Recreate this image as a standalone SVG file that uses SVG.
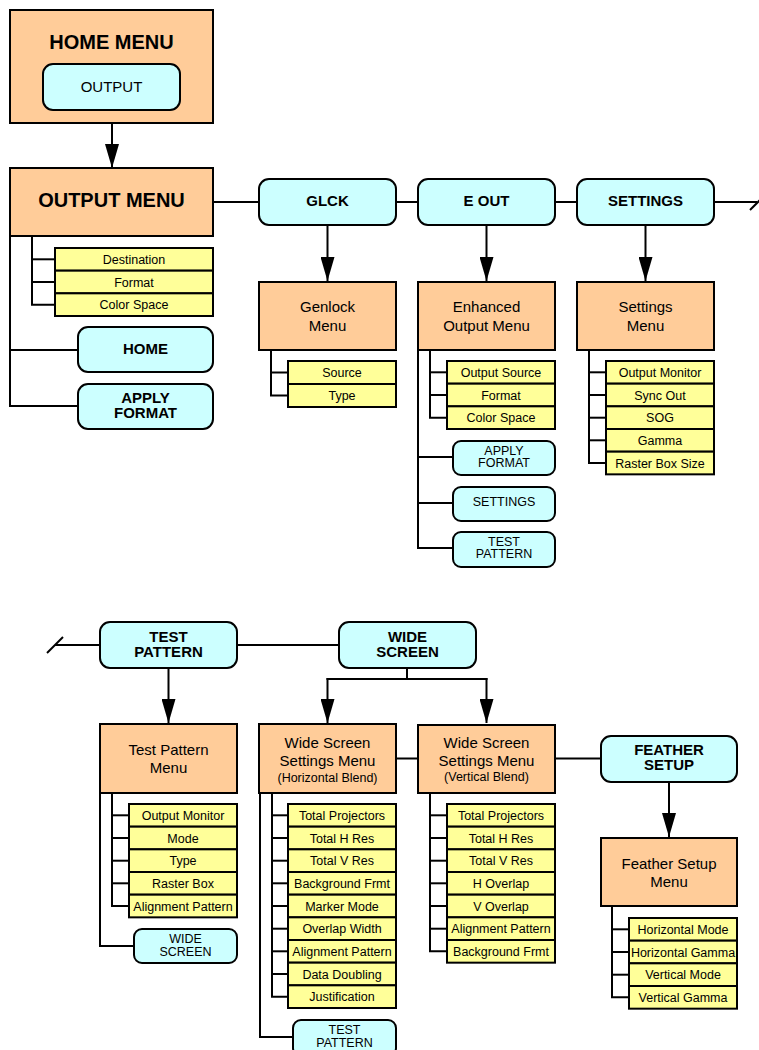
<svg xmlns="http://www.w3.org/2000/svg" width="759" height="1050" viewBox="0 0 759 1050">
<defs>
<marker id="ah" viewBox="0 0 24 14" markerWidth="24" markerHeight="14" refX="24" refY="7" orient="auto" markerUnits="userSpaceOnUse">
<path d="M0,0 L24,7 L0,14 Z" fill="#000"/>
</marker>
<style>
.menu{fill:#FFCC99;stroke:#000;stroke-width:2}
.btn{fill:#CCFFFF;stroke:#000;stroke-width:2}
.item{fill:#FFFF99;stroke:#000;stroke-width:2}
text{font-family:"Liberation Sans",Arial,sans-serif;fill:#000;text-anchor:middle}
.t20{font-size:20px;font-weight:bold}
.t15{font-size:15px}
.b15{font-size:15px;font-weight:bold}
.t12{font-size:12.5px}
.ln{fill:none;stroke:#000;stroke-width:2}
.ar{fill:none;stroke:#000;stroke-width:2;marker-end:url(#ah)}
</style>
</defs>
<rect width="759" height="1050" fill="#fff"/>

<g id="connectors">
<line class="ar" x1="112" y1="110" x2="112" y2="168"/>
<polyline class="ln" points="213,202 259,202"/>
<polyline class="ln" points="396,202 418,202"/>
<polyline class="ln" points="555,202 577,202"/>
<polyline class="ln" points="714,202 757,202"/>
<line class="ln" x1="750" y1="210" x2="760" y2="200"/>
<line class="ar" x1="327.5" y1="225" x2="327.5" y2="281"/>
<line class="ar" x1="486.5" y1="225" x2="486.5" y2="281"/>
<line class="ar" x1="645.5" y1="225" x2="645.5" y2="281"/>
<polyline class="ln" points="10,236 10,406 78,406"/>
<polyline class="ln" points="10,350 78,350"/>
<polyline class="ln" points="32,236 32,304.7 55,304.7"/>
<polyline class="ln" points="32,259.3 55,259.3"/>
<polyline class="ln" points="32,282 55,282"/>
<polyline class="ln" points="271,350 271,395.5 288,395.5"/>
<polyline class="ln" points="271,372.5 288,372.5"/>
<polyline class="ln" points="418,350 418,548 453,548"/>
<polyline class="ln" points="418,457 453,457"/>
<polyline class="ln" points="418,503 453,503"/>
<polyline class="ln" points="430,350 430,417.7 447,417.7"/>
<polyline class="ln" points="430,372.3 447,372.3"/>
<polyline class="ln" points="430,395 447,395"/>
<polyline class="ln" points="589,350 589,463 606,463"/>
<polyline class="ln" points="589,372.3 606,372.3"/>
<polyline class="ln" points="589,395 606,395"/>
<polyline class="ln" points="589,417.7 606,417.7"/>
<polyline class="ln" points="589,440.3 606,440.3"/>

<line class="ln" x1="47" y1="653" x2="63" y2="637"/>
<polyline class="ln" points="55,645 100,645"/>
<polyline class="ln" points="237,645 339,645"/>
<line class="ar" x1="168.5" y1="668" x2="168.5" y2="723"/>
<polyline class="ln" points="407,668 407,679"/>
<polyline class="ln" points="326.5,679 487.5,679"/>
<line class="ar" x1="327.5" y1="678" x2="327.5" y2="723"/>
<line class="ar" x1="486.5" y1="678" x2="486.5" y2="723"/>
<polyline class="ln" points="396,758.5 418,758.5"/>
<polyline class="ln" points="555,758.5 601,758.5"/>
<line class="ar" x1="669" y1="782" x2="669" y2="837"/>
<polyline class="ln" points="100,793 100,946 134,946"/>
<polyline class="ln" points="112,793 112,906 129,906"/>
<polyline class="ln" points="112,815.3 129,815.3"/>
<polyline class="ln" points="112,838 129,838"/>
<polyline class="ln" points="112,860.7 129,860.7"/>
<polyline class="ln" points="112,883.3 129,883.3"/>
<polyline class="ln" points="260,793 260,1037 293,1037"/>
<polyline class="ln" points="272,793 272,996.7 288,996.7"/>
<polyline class="ln" points="272,815.3 288,815.3"/>
<polyline class="ln" points="272,838 288,838"/>
<polyline class="ln" points="272,860.7 288,860.7"/>
<polyline class="ln" points="272,883.3 288,883.3"/>
<polyline class="ln" points="272,906 288,906"/>
<polyline class="ln" points="272,928.7 288,928.7"/>
<polyline class="ln" points="272,951.3 288,951.3"/>
<polyline class="ln" points="272,974 288,974"/>
<polyline class="ln" points="430,793 430,951.3 447,951.3"/>
<polyline class="ln" points="430,815.3 447,815.3"/>
<polyline class="ln" points="430,838 447,838"/>
<polyline class="ln" points="430,860.7 447,860.7"/>
<polyline class="ln" points="430,883.3 447,883.3"/>
<polyline class="ln" points="430,906 447,906"/>
<polyline class="ln" points="430,928.7 447,928.7"/>
<polyline class="ln" points="612,906 612,997.3 629,997.3"/>
<polyline class="ln" points="612,929.3 629,929.3"/>
<polyline class="ln" points="612,952 629,952"/>
<polyline class="ln" points="612,974.7 629,974.7"/>
</g>

<g id="home-menu">
<rect class="menu" x="10" y="10" width="203" height="113"/>
<text class="t20" x="111.5" y="48.5">HOME MENU</text>
</g>
<g id="output-btn">
<rect class="btn" x="43" y="64" width="137" height="46" rx="10"/>
<text class="t15" x="111.5" y="91.5">OUTPUT</text>
</g>

<g id="output-menu">
<rect class="menu" x="10" y="168" width="203" height="68"/>
<text class="t20" x="111.5" y="207">OUTPUT MENU</text>
</g>
<g id="output-items">
<rect class="item" x="55" y="248" width="158" height="22.67"/>
<rect class="item" x="55" y="270.67" width="158" height="22.67"/>
<rect class="item" x="55" y="293.33" width="158" height="22.67"/>
<text class="t12" x="134" y="263.8">Destination</text>
<text class="t12" x="134" y="286.5">Format</text>
<text class="t12" x="134" y="309.2">Color Space</text>
</g>
<g id="home-btn">
<rect class="btn" x="78" y="327" width="135" height="45" rx="10"/>
<text class="b15" x="145.5" y="353.5">HOME</text>
</g>
<g id="apply-format-btn">
<rect class="btn" x="78" y="384" width="135" height="45" rx="10"/>
<text class="b15" x="145.5" y="402.5">APPLY</text>
<text class="b15" x="145.5" y="417.5">FORMAT</text>
</g>

<g id="glck-btn">
<rect class="btn" x="259" y="179" width="137" height="46" rx="10"/>
<text class="b15" x="327.5" y="206">GLCK</text>
</g>
<g id="eout-btn">
<rect class="btn" x="418" y="179" width="137" height="46" rx="10"/>
<text class="b15" x="486.5" y="206">E OUT</text>
</g>
<g id="settings-btn">
<rect class="btn" x="577" y="179" width="137" height="46" rx="10"/>
<text class="b15" x="645.5" y="206">SETTINGS</text>
</g>

<g id="genlock-menu">
<rect class="menu" x="259" y="282" width="137" height="68"/>
<text class="t15" x="327.5" y="311.5">Genlock</text>
<text class="t15" x="327.5" y="330.5">Menu</text>
</g>
<g id="genlock-items">
<rect class="item" x="288" y="361" width="108" height="23"/>
<rect class="item" x="288" y="384" width="108" height="23"/>
<text class="t12" x="342" y="377">Source</text>
<text class="t12" x="342" y="400">Type</text>
</g>

<g id="enhanced-menu">
<rect class="menu" x="418" y="282" width="137" height="68"/>
<text class="t15" x="486.5" y="311.5">Enhanced</text>
<text class="t15" x="486.5" y="330.5">Output Menu</text>
</g>
<g id="enhanced-items">
<rect class="item" x="447" y="361" width="108" height="22.67"/>
<rect class="item" x="447" y="383.67" width="108" height="22.67"/>
<rect class="item" x="447" y="406.33" width="108" height="22.67"/>
<text class="t12" x="501" y="376.8">Output Source</text>
<text class="t12" x="501" y="399.5">Format</text>
<text class="t12" x="501" y="422.2">Color Space</text>
</g>
<g id="eo-apply-format">
<rect class="btn" x="453" y="441" width="102" height="34" rx="8"/>
<text class="t12" x="504" y="454.5">APPLY</text>
<text class="t12" x="504" y="467">FORMAT</text>
</g>
<g id="eo-settings">
<rect class="btn" x="453" y="487" width="102" height="34" rx="8"/>
<text class="t12" x="504" y="506.2">SETTINGS</text>
</g>
<g id="eo-test-pattern">
<rect class="btn" x="453" y="532" width="102" height="35" rx="8"/>
<text class="t12" x="504" y="545.5">TEST</text>
<text class="t12" x="504" y="558">PATTERN</text>
</g>

<g id="settings-menu">
<rect class="menu" x="577" y="282" width="137" height="68"/>
<text class="t15" x="645.5" y="311.5">Settings</text>
<text class="t15" x="645.5" y="330.5">Menu</text>
</g>
<g id="settings-items">
<rect class="item" x="606" y="361" width="108" height="22.67"/>
<rect class="item" x="606" y="383.67" width="108" height="22.67"/>
<rect class="item" x="606" y="406.33" width="108" height="22.67"/>
<rect class="item" x="606" y="429" width="108" height="22.67"/>
<rect class="item" x="606" y="451.67" width="108" height="22.67"/>
<text class="t12" x="660" y="376.8">Output Monitor</text>
<text class="t12" x="660" y="399.5">Sync Out</text>
<text class="t12" x="660" y="422.2">SOG</text>
<text class="t12" x="660" y="444.8">Gamma</text>
<text class="t12" x="660" y="467.5">Raster Box Size</text>
</g>

<g id="tp-btn">
<rect class="btn" x="100" y="622" width="137" height="46" rx="10"/>
<text class="b15" x="168.5" y="642">TEST</text>
<text class="b15" x="168.5" y="657">PATTERN</text>
</g>
<g id="ws-btn">
<rect class="btn" x="339" y="622" width="137" height="46" rx="10"/>
<text class="b15" x="407.5" y="642">WIDE</text>
<text class="b15" x="407.5" y="657">SCREEN</text>
</g>

<g id="tp-menu">
<rect class="menu" x="100" y="724" width="137" height="69"/>
<text class="t15" x="168.5" y="754.5">Test Pattern</text>
<text class="t15" x="168.5" y="772.5">Menu</text>
</g>
<g id="tp-items">
<rect class="item" x="129" y="804" width="108" height="22.67"/>
<rect class="item" x="129" y="826.67" width="108" height="22.67"/>
<rect class="item" x="129" y="849.33" width="108" height="22.67"/>
<rect class="item" x="129" y="872" width="108" height="22.67"/>
<rect class="item" x="129" y="894.67" width="108" height="22.67"/>
<text class="t12" x="183" y="819.8">Output Monitor</text>
<text class="t12" x="183" y="842.5">Mode</text>
<text class="t12" x="183" y="865.2">Type</text>
<text class="t12" x="183" y="887.8">Raster Box</text>
<text class="t12" x="183" y="910.5">Alignment Pattern</text>
</g>
<g id="tp-ws-btn">
<rect class="btn" x="134" y="929" width="103" height="34" rx="8"/>
<text class="t12" x="185.5" y="942.5">WIDE</text>
<text class="t12" x="185.5" y="956">SCREEN</text>
</g>

<g id="wsh-menu">
<rect class="menu" x="259" y="724" width="137" height="69"/>
<text class="t15" x="327.5" y="747.5">Wide Screen</text>
<text class="t15" x="327.5" y="765.5">Settings Menu</text>
<text class="t12" x="327.5" y="781.5">(Horizontal Blend)</text>
</g>
<g id="wsh-items">
<rect class="item" x="288" y="804" width="108" height="22.67"/>
<rect class="item" x="288" y="826.67" width="108" height="22.67"/>
<rect class="item" x="288" y="849.33" width="108" height="22.67"/>
<rect class="item" x="288" y="872" width="108" height="22.67"/>
<rect class="item" x="288" y="894.67" width="108" height="22.67"/>
<rect class="item" x="288" y="917.33" width="108" height="22.67"/>
<rect class="item" x="288" y="940" width="108" height="22.67"/>
<rect class="item" x="288" y="962.67" width="108" height="22.67"/>
<rect class="item" x="288" y="985.33" width="108" height="22.67"/>
<text class="t12" x="342" y="819.8">Total Projectors</text>
<text class="t12" x="342" y="842.5">Total H Res</text>
<text class="t12" x="342" y="865.2">Total V Res</text>
<text class="t12" x="342" y="887.8">Background Frmt</text>
<text class="t12" x="342" y="910.5">Marker Mode</text>
<text class="t12" x="342" y="933.2">Overlap Width</text>
<text class="t12" x="342" y="955.8">Alignment Pattern</text>
<text class="t12" x="342" y="978.5">Data Doubling</text>
<text class="t12" x="342" y="1001.2">Justification</text>
</g>
<g id="wsh-tp-btn">
<rect class="btn" x="293" y="1020" width="103" height="36" rx="8"/>
<text class="t12" x="344.5" y="1033.5">TEST</text>
<text class="t12" x="344.5" y="1046.5">PATTERN</text>
</g>

<g id="wsv-menu">
<rect class="menu" x="418" y="725" width="137" height="68"/>
<text class="t15" x="486.5" y="747.5">Wide Screen</text>
<text class="t15" x="486.5" y="765.5">Settings Menu</text>
<text class="t12" x="486.5" y="781">(Vertical Blend)</text>
</g>
<g id="wsv-items">
<rect class="item" x="447" y="804" width="108" height="22.67"/>
<rect class="item" x="447" y="826.67" width="108" height="22.67"/>
<rect class="item" x="447" y="849.33" width="108" height="22.67"/>
<rect class="item" x="447" y="872" width="108" height="22.67"/>
<rect class="item" x="447" y="894.67" width="108" height="22.67"/>
<rect class="item" x="447" y="917.33" width="108" height="22.67"/>
<rect class="item" x="447" y="940" width="108" height="22.67"/>
<text class="t12" x="501" y="819.8">Total Projectors</text>
<text class="t12" x="501" y="842.5">Total H Res</text>
<text class="t12" x="501" y="865.2">Total V Res</text>
<text class="t12" x="501" y="887.8">H Overlap</text>
<text class="t12" x="501" y="910.5">V Overlap</text>
<text class="t12" x="501" y="933.2">Alignment Pattern</text>
<text class="t12" x="501" y="955.8">Background Frmt</text>
</g>

<g id="feather-btn">
<rect class="btn" x="601" y="736" width="136" height="46" rx="10"/>
<text class="b15" x="669" y="755">FEATHER</text>
<text class="b15" x="669" y="770">SETUP</text>
</g>
<g id="feather-menu">
<rect class="menu" x="601" y="838" width="136" height="68"/>
<text class="t15" x="669" y="868.5">Feather Setup</text>
<text class="t15" x="669" y="886.5">Menu</text>
</g>
<g id="feather-items">
<rect class="item" x="629" y="918" width="108" height="22.67"/>
<rect class="item" x="629" y="940.67" width="108" height="22.67"/>
<rect class="item" x="629" y="963.33" width="108" height="22.67"/>
<rect class="item" x="629" y="986" width="108" height="22.67"/>
<text class="t12" x="683" y="933.8">Horizontal Mode</text>
<text class="t12" x="683" y="956.5">Horizontal Gamma</text>
<text class="t12" x="683" y="979.2">Vertical Mode</text>
<text class="t12" x="683" y="1001.8">Vertical Gamma</text>
</g>
</svg>
